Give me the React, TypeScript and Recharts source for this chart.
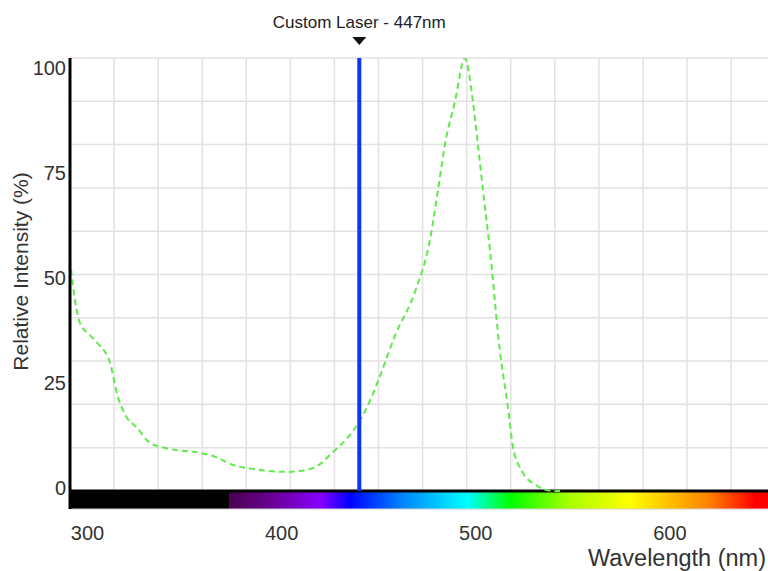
import React from "react";
import {
  LineChart,
  Line,
  XAxis,
  YAxis,
  CartesianGrid,
  ReferenceLine,
  ReferenceArea,
  Label,
} from "recharts";

// wavelength (nm) / relative intensity (%)
const wavelengths = [
  291, 292.5, 296.2, 301.3, 305.4, 311.6, 315.5, 319.3, 325.5, 332.2, 342.5,
  358, 365.7, 375, 385.3, 403.3, 416.2, 426.5, 436.8, 445.5, 450.7, 458.4,
  468.7, 476.4, 480.5, 484.1, 489.3, 494.4, 498.5, 501.1, 503.7, 507.3, 512.4,
  516.6, 519.2, 523.8, 531.5, 539.8, 543.4,
];
const intensities = [
  53.5, 47.5, 38.7, 36, 34, 29.6, 22, 17.7, 14.6, 11.1, 9.7, 8.8, 7.9, 6, 5.1,
  4.4, 5.3, 9, 13.9, 20.8, 26.6, 35.9, 46, 58, 69.4, 80, 90, 100, 90, 80, 69.4,
  55.6, 32.4, 19.2, 10, 4.6, 1.2, 0, 0,
];

const xTicks = [300, 400, 500, 600];
const yTicks = [0, 25, 50, 75, 100];
const yGrid = [10, 20, 30, 40, 50, 60, 70, 80, 90, 100];
const xGrid = [
  313.7, 336.4, 359.1, 381.8, 404.5, 427.2, 449.9, 472.6, 495.3, 518.0, 540.7,
  563.4, 586.1, 608.8, 631.5,
];

const laserNm = 440;
const laserLabel = "Custom Laser - 447nm";
const visibleStart = 372.9;

const data = wavelengths.map((w, i) => ({ nm: w, value: intensities[i] }));

const font = "'Liberation Sans', Arial, sans-serif";

function YTick(props: any) {
  const { x, y, payload } = props;
  const shift = -3 + payload.value * 0.13;
  return (
    <text
      x={x}
      y={y + shift}
      textAnchor="end"
      dominantBaseline="central"
      fontSize={20}
      fontFamily={font}
      fill="#333"
    >
      {payload.value}
    </text>
  );
}

function XTick(props: any) {
  const { x, y, payload } = props;
  return (
    <text
      x={x}
      y={y + 22}
      textAnchor="middle"
      dominantBaseline="central"
      fontSize={20}
      fontFamily={font}
      fill="#333"
    >
      {payload.value}
    </text>
  );
}

function YTitle(props: any) {
  const vb = props.viewBox || {};
  const cx = vb.x + 20;
  const cy = vb.y + vb.height / 2 - 12;
  return (
    <text
      x={cx}
      y={cy}
      transform={`rotate(-90, ${cx}, ${cy})`}
      textAnchor="middle"
      dominantBaseline="central"
      fontSize={21}
      fontFamily={font}
      fill="#333"
    >
      Relative Intensity (%)
    </text>
  );
}

function XTitle(props: any) {
  const vb = props.viewBox || {};
  return (
    <text
      x={vb.x + vb.width - 2}
      y={vb.y + 49}
      textAnchor="end"
      dominantBaseline="central"
      fontSize={23.5}
      fontFamily={font}
      fill="#333"
    >
      Wavelength (nm)
    </text>
  );
}

function LaserLabel(props: any) {
  const vb = props.viewBox || {};
  const cx = vb.x + (vb.width || 0) / 2;
  const top = vb.y;
  return (
    <g>
      <text
        x={cx}
        y={top - 36}
        textAnchor="middle"
        dominantBaseline="central"
        fontSize={17}
        fontFamily={font}
        fill="#222"
      >
        {laserLabel}
      </text>
      <polygon
        points={`${cx - 7},${top - 21} ${cx + 7},${top - 21} ${cx},${top - 13}`}
        fill="#111"
      />
    </g>
  );
}

export default function App() {
  return (
    <div
      style={{
        position: "absolute",
        left: 0,
        top: 0,
        width: 768,
        height: 571,
        background: "#fff",
        overflow: "hidden",
      }}
    >
      <LineChart
        width={768}
        height={571}
        data={data}
        margin={{ top: 58, right: 0, bottom: 0, left: 0 }}
      >
        <defs>
          <linearGradient id="spectrum" x1="0" y1="0" x2="1" y2="0">
            <stop offset="0" stopColor="#4a0050" />
            <stop offset="0.08" stopColor="#6a0095" />
            <stop offset="0.17" stopColor="#8800ff" />
            <stop offset="0.224" stopColor="#0000ff" />
            <stop offset="0.317" stopColor="#0080ff" />
            <stop offset="0.443" stopColor="#00ffff" />
            <stop offset="0.521" stopColor="#00ff00" />
            <stop offset="0.633" stopColor="#aaff00" />
            <stop offset="0.744" stopColor="#ffff00" />
            <stop offset="0.892" stopColor="#ff8000" />
            <stop offset="0.976" stopColor="#ff0000" />
            <stop offset="1" stopColor="#ff0000" />
          </linearGradient>
        </defs>
        <CartesianGrid
          horizontalValues={yGrid}
          verticalValues={xGrid}
          stroke="#e2e2e2"
          strokeWidth={1.5}
        />
        <XAxis
          dataKey="nm"
          type="number"
          domain={[291, 650.5]}
          ticks={xTicks}
          allowDataOverflow
          height={62}
          tickLine={false}
          tickSize={0}
          axisLine={{ stroke: "#d0d0d0", strokeWidth: 1 }}
          tick={<XTick />}
        >
          <Label content={<XTitle />} />
        </XAxis>
        <YAxis
          type="number"
          domain={[-4.17, 100]}
          ticks={yTicks}
          allowDataOverflow
          width={70}
          tickLine={false}
          tickSize={0}
          tickMargin={4}
          axisLine={{ stroke: "#000", strokeWidth: 3 }}
          tick={<YTick />}
        >
          <Label content={<YTitle />} />
        </YAxis>
        <ReferenceArea
          x1={291}
          x2={visibleStart}
          y1={-4.17}
          y2={0}
          fill="#000"
          fillOpacity={1}
          stroke="none"
          ifOverflow="visible"
        />
        <ReferenceArea
          x1={visibleStart}
          x2={650.5}
          y1={-4.17}
          y2={0}
          fill="url(#spectrum)"
          fillOpacity={1}
          stroke="none"
          ifOverflow="visible"
        />
        <ReferenceLine y={0} stroke="#000" strokeWidth={3} />
        <Line
          type="monotone"
          dataKey="value"
          stroke="#5fea4a"
          strokeWidth={2}
          strokeDasharray="6 4"
          dot={false}
          isAnimationActive={false}
        />
        <ReferenceLine
          segment={[
            { x: laserNm, y: 0 },
            { x: laserNm, y: 100 },
          ]}
          stroke="#0d33ff"
          strokeWidth={4}
          ifOverflow="visible"
          label={<LaserLabel />}
        />
      </LineChart>
    </div>
  );
}
